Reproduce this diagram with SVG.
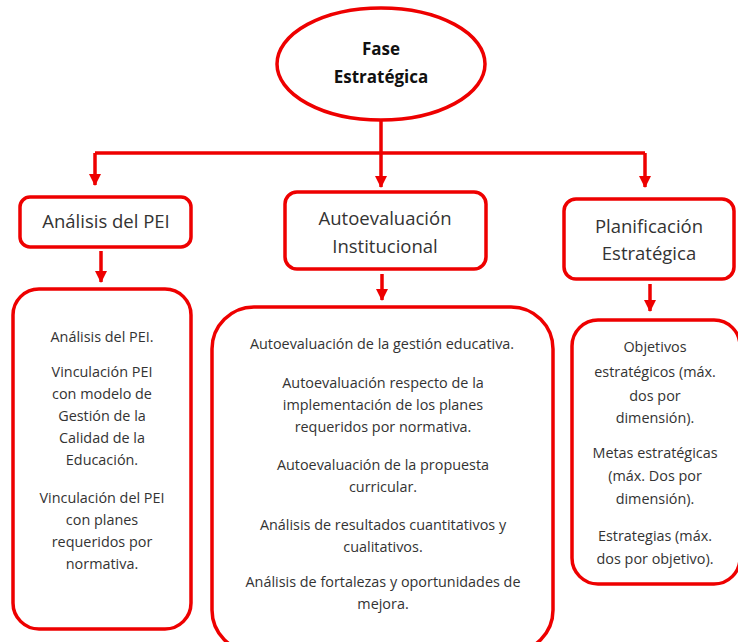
<svg xmlns="http://www.w3.org/2000/svg" width="738" height="642" viewBox="0 0 738 642">
<style>
.shape{fill:#fff;stroke:#ee0000;stroke-width:3.5}
.conn{fill:none;stroke:#ee0000;stroke-width:3.5}
.hd{font-family:"Open Sans","Liberation Sans",sans-serif;font-size:18.5px;fill:#333;text-anchor:middle}
.tt{font-family:"Open Sans","Liberation Sans",sans-serif;font-size:17px;font-weight:bold;fill:#111;text-anchor:middle}
.bd{font-family:"Open Sans","Liberation Sans",sans-serif;font-size:14.4px;fill:#333;text-anchor:middle}
</style>
<defs>
<marker id="arr" markerUnits="userSpaceOnUse" markerWidth="12" markerHeight="12" refX="11" refY="6" orient="auto">
<path d="M0,0 L12,6 L0,12 z" fill="#ee0000"/>
</marker>
</defs>
<rect width="738" height="642" fill="#fff"/>
<g id="connectors">
<path class="conn" d="M381,120 V153"/>
<path class="conn" d="M95,153 H645"/>
<path class="conn" d="M95,153 V185" marker-end="url(#arr)"/>
<path class="conn" d="M381,153 V187" marker-end="url(#arr)"/>
<path class="conn" d="M645,153 V187" marker-end="url(#arr)"/>
<path class="conn" d="M101,251 V282" marker-end="url(#arr)"/>
<path class="conn" d="M382,274 V300" marker-end="url(#arr)"/>
<path class="conn" d="M650,284 V311" marker-end="url(#arr)"/>
</g>
<g id="fase">
<ellipse class="shape" cx="381" cy="64" rx="104" ry="56"/>
<text class="tt" x="381" y="55">Fase</text>
<text class="tt" x="381" y="83">Estratégica</text>
</g>
<g id="analisis">
<rect class="shape" x="20" y="197" width="171" height="50" rx="10"/>
<text class="hd" x="106" y="228">Análisis del PEI</text>
</g>
<g id="autoevaluacion">
<rect class="shape" x="285" y="192" width="201" height="77" rx="12"/>
<text class="hd" x="385" y="225">Autoevaluación</text>
<text class="hd" x="385" y="253">Institucional</text>
</g>
<g id="planificacion">
<rect class="shape" x="564" y="199" width="170" height="80" rx="12"/>
<text class="hd" x="649" y="233">Planificación</text>
<text class="hd" x="649" y="260">Estratégica</text>
</g>
<g id="analisis-detalle">
<rect class="shape" x="13" y="289" width="178" height="340" rx="26"/>
<text class="bd" x="102" y="342">Análisis del PEI.</text>
<text class="bd" x="102" y="377">Vinculación PEI</text>
<text class="bd" x="102" y="399">con modelo de</text>
<text class="bd" x="102" y="421">Gestión de la</text>
<text class="bd" x="102" y="443">Calidad de la</text>
<text class="bd" x="102" y="465">Educación.</text>
<text class="bd" x="102" y="503">Vinculación del PEI</text>
<text class="bd" x="102" y="525">con planes</text>
<text class="bd" x="102" y="547">requeridos por</text>
<text class="bd" x="102" y="569">normativa.</text>
</g>
<g id="autoevaluacion-detalle">
<rect class="shape" x="212" y="307" width="341" height="345" rx="42"/>
<text class="bd" x="382" y="349">Autoevaluación de la gestión educativa.</text>
<text class="bd" x="383" y="388">Autoevaluación respecto de la</text>
<text class="bd" x="383" y="410">implementación de los planes</text>
<text class="bd" x="383" y="432">requeridos por normativa.</text>
<text class="bd" x="383" y="470">Autoevaluación de la propuesta</text>
<text class="bd" x="383" y="492">curricular.</text>
<text class="bd" x="383" y="530">Análisis de resultados cuantitativos y</text>
<text class="bd" x="383" y="552">cualitativos.</text>
<text class="bd" x="383" y="587">Análisis de fortalezas y oportunidades de</text>
<text class="bd" x="383" y="609">mejora.</text>
</g>
<g id="planificacion-detalle">
<rect class="shape" x="572" y="320" width="168" height="264" rx="26"/>
<text class="bd" x="655" y="352">Objetivos</text>
<text class="bd" x="655" y="377">estratégicos (máx.</text>
<text class="bd" x="655" y="401">dos por</text>
<text class="bd" x="655" y="423">dimensión).</text>
<text class="bd" x="655" y="458">Metas estratégicas</text>
<text class="bd" x="655" y="481">(máx. Dos por</text>
<text class="bd" x="655" y="504">dimensión).</text>
<text class="bd" x="655" y="541">Estrategias (máx.</text>
<text class="bd" x="655" y="564">dos por objetivo).</text>
</g>
</svg>
